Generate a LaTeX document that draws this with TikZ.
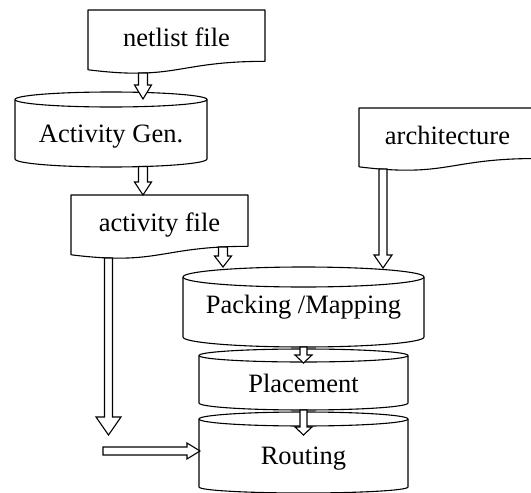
\documentclass[tikz,border=0pt]{standalone}
\usepackage{fontspec}
\setmainfont{Liberation Serif}
\usetikzlibrary{calc}
\tikzset{
  shapeline/.style={draw=black, fill=white, line width=1.1pt, line join=round},
  arrowbody/.style={draw=black, fill=white, line width=1.1pt, line join=miter},
  label/.style={anchor=base, inner sep=0pt, font=\fontsize{26.5}{30}\selectfont}
}
% document shape: name, left, right, top, height, text
\newcommand\docshape[6]{%
  \pgfmathsetmacro\dM{(#2+#3)/2}%
  \pgfmathsetmacro\dR{#4+0.802*#5}%
  \pgfmathsetmacro\dC{#4+1.107*#5}%
  \pgfmathsetmacro\dL{#4+0.934*#5}%
  \draw[shapeline] (#2,#4) -- (#3,#4) -- (#3,\dR) .. controls (\dM,\dR) and (\dM,\dC) .. (#2,\dL) -- cycle;
  \node[label] (#1) at (\dM,#4+36) {#6};
}
% cylinder: name, left, right, top center y, top ry, bottom y, bottom ry, text, baseline
\newcommand\cylshape[9]{%
  \pgfmathsetmacro\cM{(#2+#3)/2}%
  \pgfmathsetmacro\cRx{(#3-#2)/2}%
  \draw[shapeline] (#2,#4) -- (#2,#6) arc[start angle=180,end angle=360,x radius=\cRx pt,y radius=#7pt]
     -- (#3,#4) arc[start angle=0,end angle=180,x radius=\cRx pt,y radius=#5pt] -- cycle;
  \draw[shapeline, fill=none] (#2,#4) arc[start angle=180,end angle=360,x radius=\cRx pt,y radius=#5pt];
  \node[label] (#1) at (\cM,#9) {#8};
}
% hollow block arrow: start, end, half shaft, half head, head length
\newcommand\blockarrow[5]{%
  \coordinate (hb) at ($(#2)!#5!(#1)$);
  \draw[arrowbody] ($(#1)!#3!90:(#2)$) -- ($(hb)!#3!-90:(#1)$) -- ($(hb)!#4!-90:(#1)$) -- (#2)
     -- ($(hb)!#4!90:(#1)$) -- ($(hb)!#3!90:(#1)$) -- ($(#1)!#3!-90:(#2)$) -- cycle;
}
\begin{document}
\begin{tikzpicture}[x=1pt,y=-1pt]
\clip (0,0) rectangle (531,493);
\fill[white] (0,0) rectangle (531,493);

% boxes
\docshape{netlist}{88}{265}{10}{64}{netlist file}
\cylshape{actgen}{15}{207}{99.5}{7.5}{159}{8}{Activity Gen.}{142}
\docshape{actfile}{71}{248}{195}{64}{activity file}
\docshape{arch}{359}{536}{108}{63}{architecture}
\cylshape{packing}{183}{424}{277}{10}{337}{10}{Packing /Mapping}{313}
\cylshape{placement}{199}{408}{355.5}{6.5}{403}{7}{Placement}{392}
\cylshape{routing}{199}{408}{419}{7}{487}{6}{Routing}{464}

% arrow end points
\coordinate (n-out) at (143,73);
\coordinate (g-in) at (143,99);
\coordinate (g-out) at (143,166.5);
\coordinate (f-in) at (143,195);
\coordinate (f-out) at (223,247);
\coordinate (p-in) at (223,267);
\coordinate (a-out) at (383,169);
\coordinate (p-in2) at (383,268);
\coordinate (p-out) at (303.5,347);
\coordinate (l-in) at (303.5,363);
\coordinate (l-out) at (303.5,410);
\coordinate (r-in) at (303.5,435);
\coordinate (f-out2) at (108.5,258);
\coordinate (f-end) at (108.5,435);
\coordinate (h-start) at (103,451);
\coordinate (r-in2) at (200,451);

% arrows
\blockarrow{n-out}{g-in}{4.5pt}{8.5pt}{14pt}
\blockarrow{g-out}{f-in}{4.5pt}{8.5pt}{13pt}
\blockarrow{f-out}{p-in}{4.5pt}{8.5pt}{11pt}
\blockarrow{a-out}{p-in2}{4pt}{9pt}{13pt}
\blockarrow{p-out}{l-in}{3.5pt}{8.5pt}{8pt}
\blockarrow{l-out}{r-in}{3.5pt}{8.5pt}{8pt}
\blockarrow{f-out2}{f-end}{4pt}{12.5pt}{18pt}
\blockarrow{h-start}{r-in2}{4pt}{8pt}{13pt}
\end{tikzpicture}
\end{document}
